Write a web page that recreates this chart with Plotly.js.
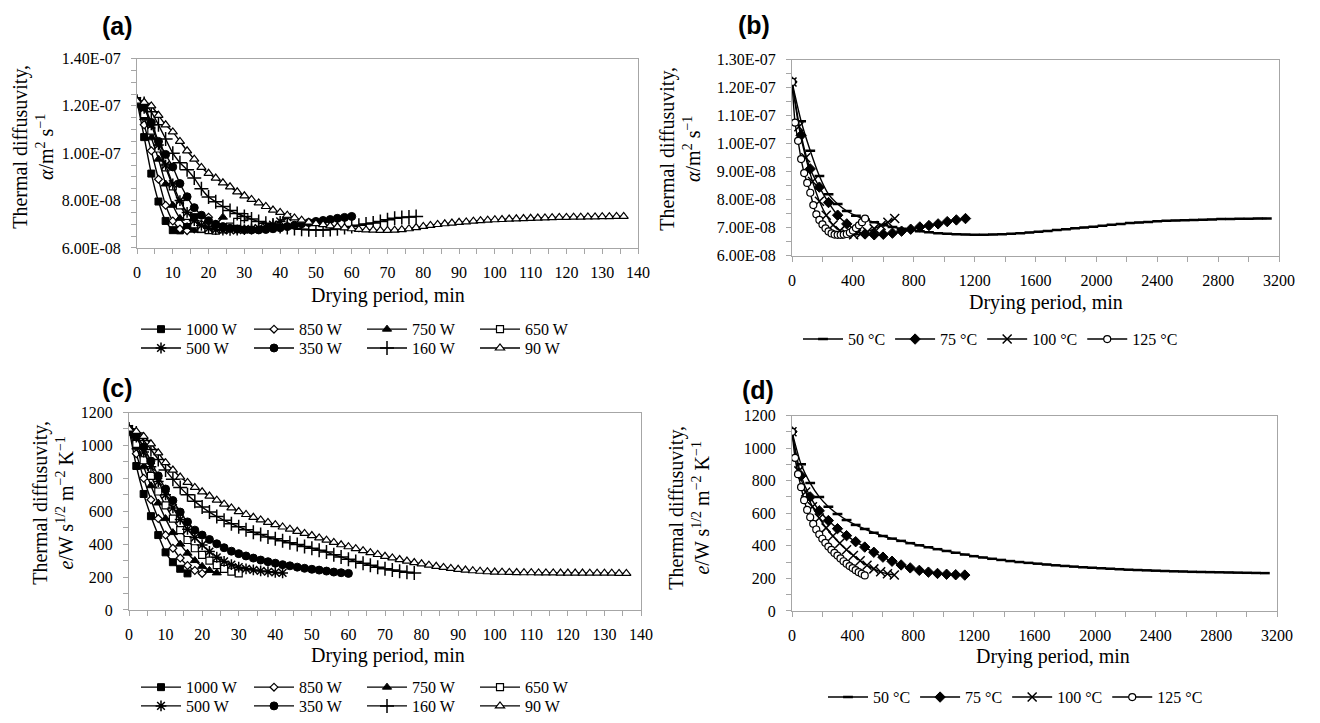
<!DOCTYPE html>
<html><head><meta charset="utf-8">
<script src="https://cdn.plot.ly/plotly-3.0.1.min.js"></script>
<style>html,body{margin:0;padding:0;background:#fff;}#chart{width:1320px;height:723px;}</style>
</head><body><div id="chart"></div>
<script>
// ---------- DATA ----------
// Microwave drying (panels a, c): time in min
const mwNames = ['1000 W','850 W','750 W','650 W','500 W','350 W','160 W','90 W'];
const t1000 = [0,2,4,6,8,10,12,14,16];
const t850  = [0,2,4,6,8,10,12,14,16,18,20];
const t750  = [0,2,4,6,8,10,12,14,16,18,20,22,24];
const t650  = [0,2,4,6,8,10,12,14,16,18,20,22,24,26,28,30];
const t500  = [0,2,4,6,8,10,12,14,16,18,20,22,24,26,28,30,32,34,36,38,40,42];
const t350  = [0,2,4,6,8,10,12,14,16,18,20,22,24,26,28,30,32,34,36,38,40,42,44,46,48,50,52,54,56,58,60];
const t160  = [0,2,4,6,8,10,12,14,16,18,20,22,24,26,28,30,32,34,36,38,40,42,44,46,48,50,52,54,56,58,60,62,64,66,68,70,72,74,76,78];
const t90   = [0,2,4,6,8,10,12,14,16,18,20,22,24,26,28,30,32,34,36,38,40,42,44,46,48,50,52,54,56,58,60,62,64,66,68,70,72,74,76,78,80,82,84,86,88,90,92,94,96,98,100,102,104,106,108,110,112,114,116,118,120,122,124,126,128,130,132,134,136];

// thermal diffusivity, in units of 1E-08 m2/s
const a1000 = [12.2,10.68,9.14,7.96,7.14,6.75,6.74,6.88,7.3];
const a850  = [12.2,11.2,10.1,8.9,7.8,7.14,6.8,6.73,6.8,7.0,7.3];
const a750  = [12.2,11.5,10.65,9.75,8.7,7.8,7.25,6.9,6.75,6.73,6.82,7.0,7.3];
const a650  = [12.2,11.65,10.95,10.2,9.4,8.6,7.8,7.35,7.0,6.82,6.75,6.73,6.78,6.9,7.1,7.3];
const a500  = [12.2,11.9,11.2,10.35,9.5,8.7,8.0,7.5,7.15,6.95,6.83,6.77,6.75,6.74,6.75,6.77,6.8,6.84,6.9,6.98,7.12,7.3];
const a350  = [12.2,11.95,11.3,10.5,9.95,9.42,8.72,8.16,7.7,7.38,7.15,7.0,6.9,6.83,6.79,6.77,6.76,6.76,6.78,6.81,6.85,6.9,6.96,7.02,7.07,7.12,7.16,7.2,7.25,7.29,7.33];
const a160  = [12.2,12.1,11.75,11.2,10.6,10.0,9.6,9.3,8.95,8.5,8.15,7.95,7.75,7.58,7.45,7.33,7.22,7.12,7.04,6.97,6.91,6.86,6.82,6.79,6.77,6.76,6.76,6.78,6.81,6.86,6.91,6.96,7.01,7.05,7.12,7.19,7.25,7.28,7.31,7.33];
const a90   = [12.2,12.15,12.0,11.6,11.2,10.9,10.5,10.1,9.75,9.4,9.15,8.95,8.75,8.58,8.37,8.2,8.05,7.9,7.75,7.6,7.5,7.38,7.27,7.17,7.09,7.03,6.98,6.93,6.89,6.85,6.81,6.78,6.76,6.75,6.74,6.74,6.75,6.77,6.81,6.86,6.91,6.95,6.99,7.02,7.05,7.08,7.1,7.13,7.15,7.17,7.19,7.2,7.22,7.23,7.24,7.25,7.26,7.27,7.28,7.29,7.29,7.3,7.3,7.31,7.31,7.32,7.32,7.33,7.33];

// thermal effusivity, W s^1/2 m^-2 K^-1
const e1000 = [1100,875,705,570,455,350,290,250,222];
const e850  = [1100,950,800,670,555,455,375,315,270,240,222];
const e750  = [1100,990,870,755,650,555,470,400,345,300,265,240,225];
const e650  = [1100,1010,910,815,720,635,555,485,425,375,335,300,272,250,233,222];
const e500  = [1100,1050,960,870,780,700,620,550,490,440,395,355,320,295,275,260,250,243,237,232,228,225];
const e350  = [1100,1060,990,905,815,735,665,595,535,485,455,428,402,378,357,342,328,315,303,293,284,275,268,260,253,247,242,236,230,226,222];
const e160  = [1100,1075,1030,975,915,850,795,745,700,660,625,595,568,545,524,505,488,472,458,444,432,420,408,397,386,375,363,352,335,322,308,295,283,271,260,250,242,235,229,224];
const e90   = [1100,1085,1055,1010,955,895,850,808,775,745,718,692,667,643,620,598,580,563,547,532,518,504,491,478,465,452,438,424,410,396,384,372,360,348,337,326,316,306,297,288,280,272,265,258,252,247,242,238,235,232,230,229,228,227,226,226,225,225,225,224,224,224,224,223,223,223,223,222,222];

// Convective drying (panels b, d)
const cvNames = ['50 \u00B0C','75 \u00B0C','100 \u00B0C','125 \u00B0C'];
const t50  = [0,60,120,180,240,300,360,420,480,540,600,660,720,780,840,900,960,1020,1080,1140,1200,1260,1320,1380,1440,1500,1560,1620,1680,1740,1800,1860,1920,1980,2040,2100,2160,2220,2280,2340,2400,2460,2520,2580,2640,2700,2760,2820,2880,2940,3000,3060,3120];
const t75  = [0,60,120,180,240,300,360,420,480,540,600,660,720,780,840,900,960,1020,1080,1140];
const t100 = [0,45,90,135,180,225,270,315,360,405,450,495,540,585,630,675];
const t125 = [0,20,40,60,80,100,120,140,160,180,200,220,240,260,280,300,320,340,360,380,400,420,440,460,480];

const b50  = [12.2,10.8,9.75,8.85,8.2,7.85,7.6,7.43,7.3,7.2,7.1,7.03,6.97,6.92,6.88,6.84,6.81,6.79,6.77,6.76,6.75,6.75,6.76,6.77,6.79,6.81,6.83,6.86,6.89,6.92,6.95,6.98,7.01,7.04,7.07,7.11,7.14,7.17,7.19,7.21,7.23,7.25,7.26,7.27,7.28,7.29,7.3,7.31,7.31,7.32,7.32,7.33,7.33];
const b75  = [12.2,10.3,9.1,8.45,7.9,7.45,7.14,6.92,6.78,6.75,6.77,6.81,6.88,6.95,7.03,7.08,7.14,7.22,7.28,7.33];
const b100 = [12.2,10.6,9.5,8.65,7.95,7.45,7.1,6.9,6.78,6.75,6.78,6.86,6.97,7.08,7.2,7.33];
const b125 = [12.2,10.75,10.1,9.45,8.95,8.6,8.25,7.81,7.48,7.28,7.12,6.98,6.87,6.8,6.76,6.75,6.75,6.76,6.78,6.83,6.9,6.99,7.09,7.2,7.33];

const d50  = [1100,900,785,700,640,595,558,528,503,480,460,444,430,416,403,391,379,368,357,346,336,328,320,313,306,300,295,290,285,280,276,272,268,265,262,259,256,253,251,249,247,245,243,242,240,239,238,237,236,235,234,233,232];
const d75  = [1100,830,700,615,555,505,462,425,392,360,330,305,282,264,249,238,230,225,222,220];
const d100 = [1100,860,730,640,570,510,460,415,375,340,308,280,258,240,228,220];
const d125 = [1100,940,840,760,680,620,575,535,500,470,443,418,395,375,356,340,322,305,290,275,263,250,238,228,218];

// tick labels
const yTickValsA = [6,8,10,12,14];
const yTickTextA = ['6.00E-08','8.00E-08','1.00E-07','1.20E-07','1.40E-07'];
const yTickValsB = [6,7,8,9,10,11,12,13];
const yTickTextB = ['6.00E-08','7.00E-08','8.00E-08','9.00E-08','1.00E-07','1.10E-07','1.20E-07','1.30E-07'];
const xTicksMin  = [0,10,20,30,40,50,60,70,80,90,100,110,120,130,140];
const xTicksConv = [0,400,800,1200,1600,2000,2400,2800,3200];
const yTicksEff  = [0,200,400,600,800,1000,1200];

// ---------- STYLE ----------
const W = 1320, H = 723;
const fx = p => p / W, fy = p => 1 - p / H;
const FONT = 'Liberation Serif, Times New Roman, serif';
const SANS = 'Liberation Sans, Arial, sans-serif';
const AX = '#A6A6A6';

const mwMarkers = [
  {symbol:'square', size:7, color:'#000', line:{color:'#000', width:1}},
  {symbol:'diamond', size:6, color:'#fff', line:{color:'#000', width:1.2}},
  {symbol:'triangle-up', size:8, color:'#000', line:{color:'#000', width:1}},
  {symbol:'square', size:7, color:'#fff', line:{color:'#000', width:1.2}},
  {symbol:'asterisk-open', size:9, color:'#000', line:{color:'#000', width:1.5}},
  {symbol:'circle', size:8, color:'#000', line:{color:'#000', width:1}},
  {symbol:'cross-thin-open', size:10, color:'#000', line:{color:'#000', width:1.5}},
  {symbol:'triangle-up', size:8, color:'#fff', line:{color:'#000', width:1.2}}
];
const cvMarkers = [
  {symbol:'line-ew-open', size:7, color:'#000', line:{color:'#000', width:2.5}},
  {symbol:'diamond', size:8, color:'#000', line:{color:'#000', width:1}},
  {symbol:'x-thin-open', size:9, color:'#000', line:{color:'#000', width:1.5}},
  {symbol:'circle', size:7, color:'#fff', line:{color:'#000', width:1.2}}
];
const LINE = {color:'#000', width:1.4, shape:'spline', smoothing:0.6};

function tr(x, y, name, marker, xa, ya, legend) {
  return {type:'scatter', mode:'lines+markers', x:x, y:y, name:name,
    xaxis:xa, yaxis:ya, legend:legend, line:LINE, marker:marker, hoverinfo:'skip'};
}

const mwT = [t1000,t850,t750,t650,t500,t350,t160,t90];
const mwA = [a1000,a850,a750,a650,a500,a350,a160,a90];
const mwE = [e1000,e850,e750,e650,e500,e350,e160,e90];
const cvT = [t50,t75,t100,t125];
const cvA = [b50,b75,b100,b125];
const cvE = [d50,d75,d100,d125];

const traces = [];
mwNames.forEach((n,i) => traces.push(tr(mwT[i], mwA[i], n, mwMarkers[i], 'x', 'y', i<4?'legend':'legend2')));
cvNames.forEach((n,i) => traces.push(tr(cvT[i], cvA[i], n, cvMarkers[i], 'x2', 'y2', 'legend3')));
mwNames.forEach((n,i) => traces.push(tr(mwT[i], mwE[i], n, mwMarkers[i], 'x3', 'y3', i<4?'legend4':'legend5')));
cvNames.forEach((n,i) => traces.push(tr(cvT[i], cvE[i], n, cvMarkers[i], 'x4', 'y4', 'legend6')));

function axis(domain, anchor, range, vals, text, minorD, isY) {
  const a = {domain:domain, anchor:anchor, range:range, tickmode:'array', tickvals:vals,
    showline:true, linecolor:AX, linewidth:1, mirror:true, ticks:'outside', ticklen:5,
    tickcolor:AX, tickwidth:1, showgrid:false, zeroline:false, fixedrange:true,
    tickfont:{family:FONT, size:16, color:'#000'},
    ticklabelstandoff: isY ? 7 : 5,
    minor:{tickmode:'linear', tick0:0, dtick:minorD, ticks:'outside', ticklen:5, tickcolor:AX, tickwidth:1, showgrid:false}};
  if (text) a.ticktext = text;
  return a;
}
function leg(xpx, ypx, ew) {
  const l = {x:fx(xpx), y:fy(ypx), xanchor:'left', yanchor:'middle', orientation:'h',
    font:{family:FONT, size:16, color:'#000'}, bgcolor:'rgba(0,0,0,0)', borderwidth:0,
    itemwidth:40, traceorder:'normal'};
  if (ew) { l.entrywidth = ew; l.entrywidthmode = 'pixels'; }
  return l;
}

const yTitleA = 'Thermal diffusuvity,<br><i>\u03B1</i>/m<sup>2</sup> s<sup>\u22121</sup>';
const yTitleE = 'Thermal diffusuvity,<br><i>e</i>/W s<sup>1/2</sup> m<sup>\u22122</sup> K<sup>\u22121</sup>';
const xTitle = 'Drying period, min';

function ann(text, xpx, ypx, size, family, angle) {
  return {text:text, x:fx(xpx), y:fy(ypx), xref:'paper', yref:'paper', showarrow:false,
    xanchor:'center', yanchor:'middle', textangle:angle||0, font:{family:family, size:size, color:'#000'}};
}

const layout = {
  width:W, height:H, margin:{l:0, r:0, t:0, b:0}, paper_bgcolor:'#fff', plot_bgcolor:'#fff',
  showlegend:true, hovermode:false,
  xaxis:  axis([fx(137), fx(638)], 'y',  [0,140],  xTicksMin, null, 5, false),
  yaxis:  axis([fy(250), fy(59)],  'x',  [6,14],   yTickValsA, yTickTextA, 0.5, true),
  xaxis2: axis([fx(792), fx(1279)], 'y2', [0,3200], xTicksConv, null, 200, false),
  yaxis2: axis([fy(258), fy(60)],  'x2', [6,13],   yTickValsB, yTickTextB, 0.5, true),
  xaxis3: axis([fx(129), fx(641)], 'y3', [0,140],  xTicksMin, null, 5, false),
  yaxis3: axis([fy(615), fy(416)], 'x3', [0,1200], yTicksEff, null, 100, true),
  xaxis4: axis([fx(792), fx(1277)], 'y4', [0,3200], xTicksConv, null, 200, false),
  yaxis4: axis([fy(616), fy(419)], 'x4', [0,1200], yTicksEff, null, 100, true),
  legend:  leg(136, 332, 58),
  legend2: leg(136, 351, 58),
  legend3: leg(798, 342),
  legend4: leg(136, 693, 58),
  legend5: leg(136, 712, 58),
  legend6: leg(823, 703),
  annotations: [
    ann('<b>(a)</b>', 117, 26, 25, SANS), ann('<b>(b)</b>', 754, 25, 25, SANS),
    ann('<b>(c)</b>', 117, 391, 25, SANS), ann('<b>(d)</b>', 758, 393, 25, SANS),
    ann(yTitleA, 33, 148, 20, FONT, -90), ann(yTitleA, 680, 150, 20, FONT, -90),
    ann(yTitleE, 53, 507, 20, FONT, -90), ann(yTitleE, 689, 512, 20, FONT, -90),
    ann(xTitle, 388, 298, 20, FONT), ann(xTitle, 1046, 305, 20, FONT),
    ann(xTitle, 388, 661, 20, FONT), ann(xTitle, 1053, 662, 20, FONT)
  ]
};

Plotly.newPlot('chart', traces, layout, {staticPlot:true, displayModeBar:false});
</script></body></html>
